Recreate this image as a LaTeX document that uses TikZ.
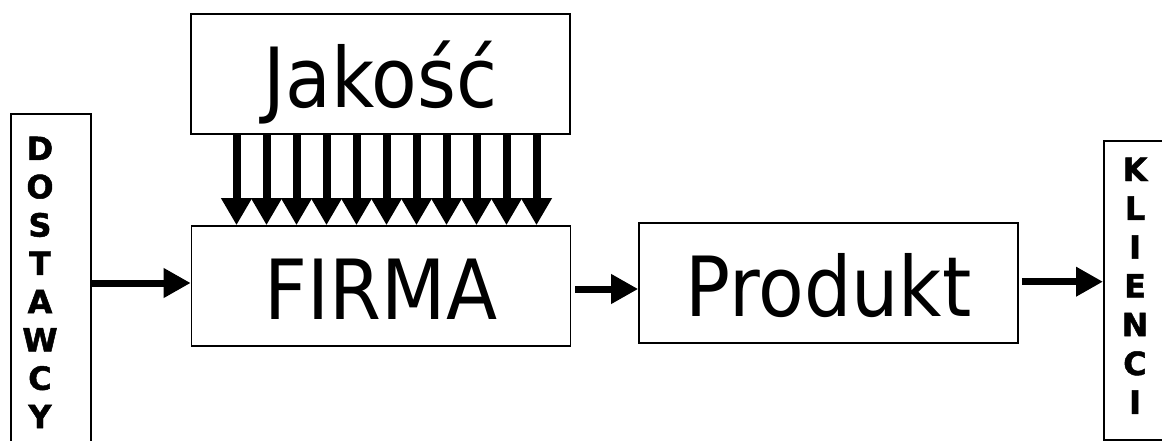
\documentclass[tikz,border=0pt]{standalone}
\usepackage{fontspec}
\usetikzlibrary{arrows.meta}
\newfontfamily\labelfont[FakeStretch=0.9]{DejaVu Sans}
\newfontfamily\sidefont[FakeBold=1.5]{DejaVu Sans Bold}

\begin{document}
\begin{tikzpicture}[x=1pt,y=-1pt,
  box/.style={draw, line width=1.6pt, minimum width=379pt, minimum height=120pt,
    inner sep=0pt, text height=67pt, text depth=0pt,
    font=\labelfont\fontsize{83}{90}\selectfont},
  sidebox/.style={draw, line width=1.6pt, minimum width=80pt, inner sep=0pt,
    anchor=north west},
  letter/.style={font=\sidefont\fontsize{32}{36}\selectfont,
    anchor=base, inner sep=0pt},
  flow/.style={line width=7pt, -{Triangle[length=27pt,width=28pt]}},
  drop/.style={line width=8pt, -{Triangle[length=27pt,width=29pt]}}]
\path[use as bounding box] (0,0) rectangle (1162,441);
\clip (0,0) rectangle (1162,441);

% main blocks
\node[box] (jak) at (380.5,74) {Jakość};
\node[box] (firma) at (381,286) {FIRMA};
\node[box] (prod) at (828.5,283) {Produkt};

% side columns
\node[sidebox, minimum height=360pt] (dost) at (10,113) {};
\node[sidebox, minimum height=299pt] (kli) at (1103,140) {};
\foreach \l [count=\i from 0] in {D,O,S,T,A,W,C,Y}
  \node[letter] (dost\i) at (40,160+38.3*\i) {\l};
\foreach \l [count=\i from 0] in {K,L,I,E,N,C,I}
  \node[letter] (kli\i) at (1135,181+38.8*\i) {\l};

% main flow
\coordinate (r1) at (0,283);
\draw[flow] (dost.east |- r1) -- (firma.west |- r1);
\coordinate (r2) at (0,289);
\draw[flow, shorten <=4pt] (firma.east |- r2) -- (prod.west |- r2);
\coordinate (r3) at (0,281.7);
\draw[flow, shorten <=3pt] (prod.east |- r3) -- (kli.west |- r3);

% quality arrows
\foreach \i in {0,...,10} {
  \coordinate (c\i) at (236.5+30*\i,0);
  \draw[drop] (jak.south -| c\i) -- (firma.north -| c\i);
}
\end{tikzpicture}
\end{document}
